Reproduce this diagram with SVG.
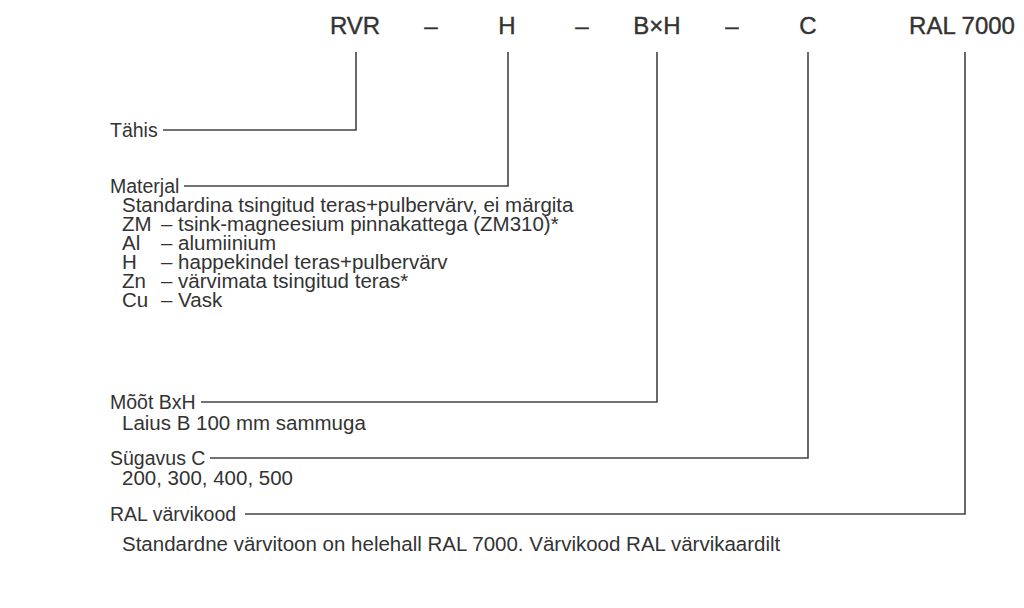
<svg xmlns="http://www.w3.org/2000/svg" width="1024" height="608" viewBox="0 0 1024 608">
<style>
.hd{font-family:"Liberation Sans",Arial,sans-serif;font-size:24px;fill:#333;stroke:#333;stroke-width:0.4;text-anchor:middle}
.lb{font-family:"Liberation Sans",Arial,sans-serif;font-size:19.5px;fill:#333}
.sb{font-family:"Liberation Sans",Arial,sans-serif;font-size:20.5px;fill:#333}
.ln{fill:none;stroke:#444;stroke-width:1.6}
</style>
<rect width="1024" height="608" fill="#fff"/>
<g id="header">
<text class="hd" x="355" y="34">RVR</text>
<text class="hd" x="431" y="34">–</text>
<text class="hd" x="507" y="34">H</text>
<text class="hd" x="582" y="34">–</text>
<text class="hd" x="657" y="34">B×H</text>
<text class="hd" x="732" y="34">–</text>
<text class="hd" x="808" y="34">C</text>
<text class="hd" x="962" y="34">RAL 7000</text>
</g>
<g id="connectors">
<polyline class="ln" points="356,52 356,130 163,130"/>
<polyline class="ln" points="508,52 508,186 184,186"/>
<polyline class="ln" points="657,52 657,402 201,402"/>
<polyline class="ln" points="808,52 808,458 210,458"/>
<polyline class="ln" points="965,52 965,514 245,514"/>
</g>
<g id="tahis">
<text class="lb" x="110" y="137">Tähis</text>
</g>
<g id="materjal">
<text class="lb" x="110" y="193">Materjal</text>
<text class="sb" x="122" y="212">Standardina tsingitud teras+pulbervärv, ei märgita</text>
<text class="sb" x="122" y="231">ZM</text><text class="sb" x="161" y="231">– tsink-magneesium pinnakattega (ZM310)*</text>
<text class="sb" x="122" y="250">Al</text><text class="sb" x="161" y="250">– alumiinium</text>
<text class="sb" x="122" y="269">H</text><text class="sb" x="161" y="269">– happekindel teras+pulbervärv</text>
<text class="sb" x="122" y="288">Zn</text><text class="sb" x="161" y="288">– värvimata tsingitud teras*</text>
<text class="sb" x="122" y="307">Cu</text><text class="sb" x="161" y="307">– Vask</text>
</g>
<g id="moot">
<text class="lb" x="110" y="409">Mõõt BxH</text>
<text class="sb" x="122" y="430">Laius B 100 mm sammuga</text>
</g>
<g id="sugavus">
<text class="lb" x="110" y="465">Sügavus C</text>
<text class="sb" x="122" y="485">200, 300, 400, 500</text>
</g>
<g id="ral">
<text class="lb" x="110" y="521">RAL värvikood</text>
<text class="sb" x="122" y="551">Standardne värvitoon on helehall RAL 7000. Värvikood RAL värvikaardilt</text>
</g>
</svg>
